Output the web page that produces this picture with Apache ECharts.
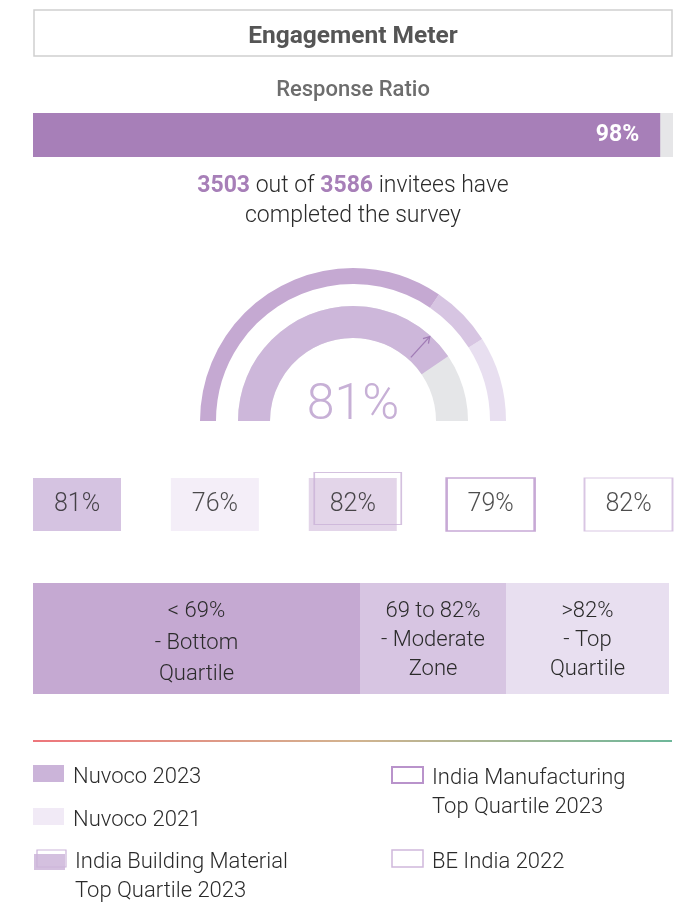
<!DOCTYPE html>
<html>
<head>
<meta charset="utf-8">
<title>Engagement Meter</title>
<script src="https://cdn.jsdelivr.net/npm/echarts@6/dist/echarts.min.js"></script>
<style>
  html, body { margin: 0; padding: 0; background: #ffffff; }
  #chart { width: 690px; height: 908px; }
</style>
</head>
<body>
<div id="chart"></div>
<script>
// ---- data ----
const responseCategories = ['Response Ratio'];
const responseValues = [98];
const completedCount = 3503;
const invitedCount = 3586;

const engagementScore = 81;
const zoneBreaks = [69, 82, 100];

const benchmarkNames = [
  'Nuvoco 2023',
  'Nuvoco 2021',
  'India Building Material Top Quartile 2023',
  'India Manufacturing Top Quartile 2023',
  'BE India 2022'
];
const benchmarkValues = [81, 76, 82, 79, 82];

const zoneLabels = [
  ['< 69%', '- Bottom', 'Quartile'],
  ['69 to 82%', '- Moderate', 'Zone'],
  ['>82%', '- Top', 'Quartile']
];

const legendLines = [
  ['Nuvoco 2023'],
  ['Nuvoco 2021'],
  ['India Building Material', 'Top Quartile 2023'],
  ['India Manufacturing', 'Top Quartile 2023'],
  ['BE India 2022']
];

// ---- styling ----
const FONT = 'Roboto, "Noto Sans", sans-serif';
const PURPLE = '#a77fb8';
const ZONE_COLORS = ['#c5a9d2', '#d7c5e2', '#e8dff0'];
const GAUGE_FILL = '#cdb7da';
const GAUGE_EMPTY = '#e5e6e8';
const BODY_FONT = '300 22px ' + FONT;

// per-benchmark box styles
const boxStyles = [
  { color: '#cbb4d9', borderColor: 'transparent', borderWidth: 0 },
  { color: '#f1eaf6', borderColor: 'transparent', borderWidth: 0 },
  { color: '#dccbe4', borderColor: 'transparent', borderWidth: 0 },
  { color: '#ffffff', borderColor: '#b993cb', borderWidth: 2 },
  { color: '#ffffff', borderColor: '#cfb8dc', borderWidth: 1.5 }
];

const chart = echarts.init(document.getElementById('chart'), null, { renderer: 'canvas' });

// gauge geometry
const GC = [353, 421];
const OUTER_R = 153, OUTER_W = 16;
const INNER_R = 115, INNER_W = 32;

// small decorative arrow inside the filled band, just behind the score edge
function arrowGraphic() {
  const angDeg = 180 - (engagementScore / 100) * 180 + 13.5;
  const a = angDeg * Math.PI / 180;
  const r0 = INNER_R - INNER_W + 3, r1 = INNER_R - 1;
  const p0 = [GC[0] + r0 * Math.cos(a), GC[1] - r0 * Math.sin(a)];
  const p1 = [GC[0] + r1 * Math.cos(a), GC[1] - r1 * Math.sin(a)];
  const h = 7, spread = 0.55;
  const back = a + Math.PI;
  const w1 = [p1[0] + h * Math.cos(back + spread), p1[1] - h * Math.sin(back + spread)];
  const w2 = [p1[0] + h * Math.cos(back - spread), p1[1] - h * Math.sin(back - spread)];
  const st = { stroke: '#a07bb5', lineWidth: 1.3, fill: null };
  return [
    { type: 'polyline', shape: { points: [p0, p1] }, style: st, z: 20 },
    { type: 'polyline', shape: { points: [w1, p1, w2] }, style: st, z: 20 }
  ];
}

// zone band layout
const band = { top: 583, height: 111, xs: [33, 360, 506, 669] };
function zoneGraphics() {
  const out = [];
  const lineYs = [[611, 643.5, 674.5], [611, 640.5, 669.5], [611, 640.5, 669.5]];
  for (let i = 0; i < 3; i++) {
    const x0 = band.xs[i], x1 = band.xs[i + 1];
    out.push({
      type: 'rect',
      shape: { x: x0, y: band.top, width: x1 - x0, height: band.height },
      style: { fill: ZONE_COLORS[i] }
    });
    zoneLabels[i].forEach((t, j) => {
      out.push({
        type: 'text',
        style: {
          text: t, x: (x0 + x1) / 2, y: lineYs[i][j],
          textAlign: 'center', textVerticalAlign: 'middle',
          font: BODY_FONT, fill: '#2b2b2b'
        }
      });
    });
  }
  return out;
}

// legend swatches and labels
function legendGraphics() {
  const out = [];
  const txt = (t, x, y) => ({
    type: 'text',
    style: { text: t, x: x, y: y, textAlign: 'left', textVerticalAlign: 'middle',
             font: BODY_FONT, fill: '#2b2b2b' }
  });
  // Nuvoco 2023
  out.push({ type: 'rect', shape: { x: 33, y: 765, width: 31, height: 17 }, style: { fill: boxStyles[0].color } });
  out.push(txt(legendLines[0][0], 73, 777));
  // Nuvoco 2021
  out.push({ type: 'rect', shape: { x: 33, y: 808, width: 31, height: 17 }, style: { fill: boxStyles[1].color } });
  out.push(txt(legendLines[1][0], 73, 820));
  // India Building Material (filled box with shifted outline)
  out.push({ type: 'rect', shape: { x: 34, y: 854, width: 31, height: 16 }, style: { fill: '#d4c0df' } });
  out.push({ type: 'rect', shape: { x: 37, y: 850, width: 29, height: 17 }, style: { fill: null, stroke: '#cbb4d9', lineWidth: 1.2 }, z: 5 });
  out.push(txt(legendLines[2][0], 75, 862));
  out.push(txt(legendLines[2][1], 75, 891.5));
  // India Manufacturing
  out.push({ type: 'rect', shape: { x: 392, y: 767, width: 31, height: 16 }, style: { fill: null, stroke: boxStyles[3].borderColor, lineWidth: 2 } });
  out.push(txt(legendLines[3][0], 432, 778));
  out.push(txt(legendLines[3][1], 432, 807));
  // BE India
  out.push({ type: 'rect', shape: { x: 392, y: 850, width: 31, height: 17 }, style: { fill: null, stroke: boxStyles[4].borderColor, lineWidth: 1.5 } });
  out.push(txt(legendLines[4][0], 432, 862));
  return out;
}

const boxData = benchmarkValues.map((v, i) => ({
  value: [i, 0, v],
  itemStyle: boxStyles[i]
}));

const option = {
  animation: false,
  backgroundColor: '#ffffff',
  textStyle: { fontFamily: FONT },
  grid: [
    { left: 33, top: 113, width: 640, height: 44 },
    { left: 77, top: 478, width: 551.5, height: 53 }
  ],
  xAxis: [
    { gridIndex: 0, type: 'value', min: 0, max: 100, show: false },
    { gridIndex: 1, type: 'value', min: 0, max: benchmarkNames.length - 1, show: false }
  ],
  yAxis: [
    { gridIndex: 0, type: 'category', data: responseCategories, show: false },
    { gridIndex: 1, type: 'value', min: -1, max: 1, show: false }
  ],
  series: [
    {
      name: 'Response Ratio',
      type: 'bar',
      xAxisIndex: 0, yAxisIndex: 0,
      data: responseValues,
      barWidth: 44,
      showBackground: true,
      backgroundStyle: { color: '#e6e6e8' },
      itemStyle: { color: PURPLE },
      label: {
        show: true, position: 'insideRight', distance: 21,
        formatter: p => p.value + '%',
        color: '#ffffff', fontSize: 23, fontWeight: 'bold', fontFamily: FONT
      }
    },
    {
      name: 'Zones',
      type: 'gauge',
      center: GC, radius: OUTER_R,
      startAngle: 180, endAngle: 0, min: 0, max: 100,
      axisLine: {
        lineStyle: {
          width: OUTER_W,
          color: zoneBreaks.map((b, i) => [b / 100, ZONE_COLORS[i]])
        }
      },
      pointer: { show: false }, axisTick: { show: false }, splitLine: { show: false },
      axisLabel: { show: false }, title: { show: false }, detail: { show: false },
      data: [{ value: 0 }]
    },
    {
      name: 'Engagement Score',
      type: 'gauge',
      center: GC, radius: INNER_R,
      startAngle: 180, endAngle: 0, min: 0, max: 100,
      axisLine: { lineStyle: { width: INNER_W, color: [[1, GAUGE_EMPTY]] } },
      progress: { show: true, width: INNER_W, itemStyle: { color: GAUGE_FILL } },
      pointer: { show: false }, axisTick: { show: false }, splitLine: { show: false },
      axisLabel: { show: false }, title: { show: false },
      detail: {
        show: true, offsetCenter: [0, -15],
        formatter: v => v + '%',
        fontSize: 50, fontWeight: 300, fontFamily: FONT, color: '#c7b0d6'
      },
      data: [{ value: engagementScore }]
    },
    {
      name: 'Benchmarks',
      type: 'scatter',
      xAxisIndex: 1, yAxisIndex: 1,
      symbol: 'rect', symbolSize: [88, 53],
      data: boxData,
      label: {
        show: true, position: 'inside',
        formatter: p => p.value[2] + '%',
        fontSize: 25, fontWeight: 300, fontFamily: FONT, color: '#1f1f1f'
      },
      z: 3
    },
    {
      name: 'Benchmark outline',
      type: 'scatter',
      xAxisIndex: 1, yAxisIndex: 1,
      symbol: 'rect', symbolSize: [87, 52], symbolOffset: [5, -6],
      data: [{ value: [2, 0, benchmarkValues[2]] }],
      itemStyle: { color: 'rgba(0,0,0,0)', borderColor: '#c9b1d7', borderWidth: 1.3 },
      label: { show: false },
      z: 4
    }
  ],
  graphic: [
    { type: 'rect', shape: { x: 34, y: 10, width: 638, height: 46 }, style: { fill: null, stroke: '#d0d0d0', lineWidth: 1.5 } },
    { type: 'text', style: { text: 'Engagement Meter', x: 353, y: 37, textAlign: 'center', textVerticalAlign: 'middle', font: 'bold 24.5px ' + FONT, fill: '#555555' } },
    { type: 'text', style: { text: responseCategories[0], x: 353, y: 90.5, textAlign: 'center', textVerticalAlign: 'middle', font: '500 22px ' + FONT, fill: '#6d6d6d' } },
    {
      type: 'text',
      style: {
        text: '{n|' + completedCount + '} out of {n|' + invitedCount + '} invitees have\ncompleted the survey',
        x: 353, y: 201.5, textAlign: 'center', textVerticalAlign: 'middle',
        font: '300 23px ' + FONT, fill: '#2b2b2b', lineHeight: 30,
        rich: {
          n: { font: 'bold 23px ' + FONT, fill: PURPLE, lineHeight: 30 }
        }
      }
    },
    ...arrowGraphic(),
    ...zoneGraphics(),
    {
      type: 'line',
      shape: { x1: 33, y1: 741, x2: 672, y2: 741 },
      style: {
        lineWidth: 1.5,
        stroke: new echarts.graphic.LinearGradient(0, 0, 1, 0, [
          { offset: 0, color: '#e8474f' },
          { offset: 0.5, color: '#c49a6a' },
          { offset: 1, color: '#3c9f78' }
        ])
      }
    },
    ...legendGraphics()
  ]
};

chart.setOption(option);
</script>
</body>
</html>
